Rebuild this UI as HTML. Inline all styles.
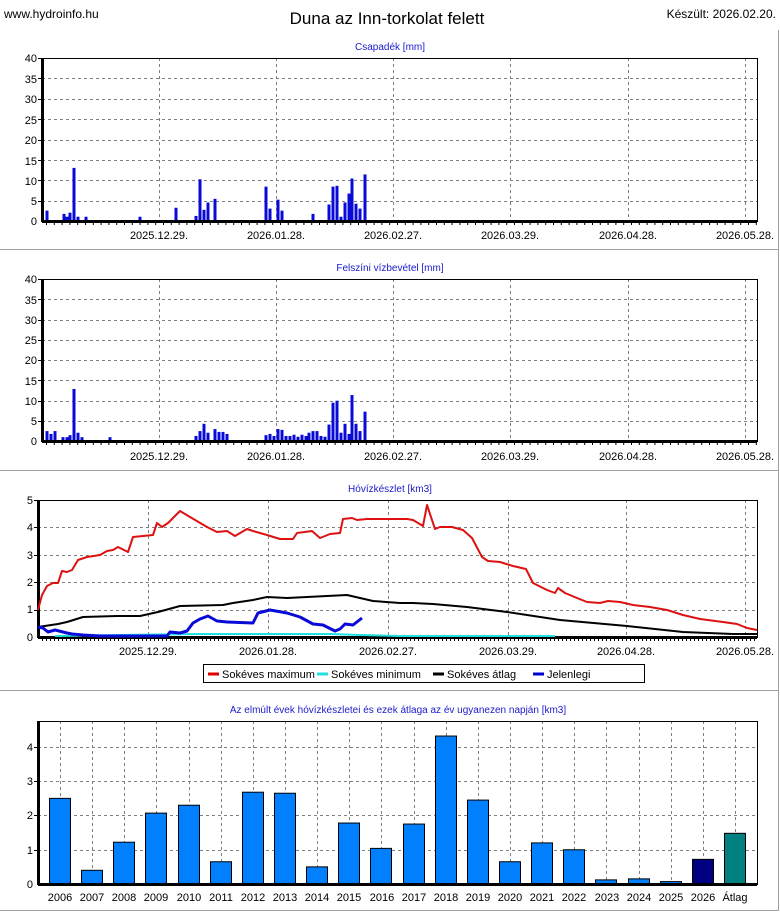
<!DOCTYPE html>
<html><head><meta charset="utf-8">
<style>
html,body{margin:0;padding:0;background:#fff;}
svg{display:block;font-family:"Liberation Sans",Arial,sans-serif;}
</style></head>
<body>
<svg id="s" width="780" height="913" viewBox="0 0 780 913" xmlns="http://www.w3.org/2000/svg">
<rect width="780" height="913" fill="#fff"/>
<!-- panel separators -->
<g stroke="#a0a0a0" stroke-width="1" fill="none">
<line x1="0" y1="249.5" x2="778" y2="249.5"/>
<line x1="0" y1="470.5" x2="778" y2="470.5"/>
<line x1="0" y1="690.5" x2="778" y2="690.5"/>
<line x1="0" y1="910.5" x2="778" y2="910.5"/>
<line x1="778.5" y1="30" x2="778.5" y2="911"/>
</g>
<text x="4" y="18" font-size="12" fill="#000">www.hydroinfo.hu</text>
<text x="387" y="24" font-size="17" text-anchor="middle" fill="#000">Duna az Inn-torkolat felett</text>
<text x="776" y="18" font-size="12" text-anchor="end" fill="#000">Készült: 2026.02.20.</text>

<g font-size="10" fill="#1a1acc" text-anchor="middle">
<text x="390" y="50">Csapadék [mm]</text>
<text x="390" y="271">Felszíni vízbevétel [mm]</text>
<text x="390" y="492">Hóvízkészlet [km3]</text>
<text x="398" y="713">Az elmúlt évek hóvízkészletei és ezek átlaga az év ugyanezen napján [km3]</text>
</g>

<g id="g1"></g><g id="g2"></g><g id="g3"></g><g id="g4"></g>

<!-- y labels plot1 -->
<g font-size="11" fill="#000" text-anchor="end">
<text x="37" y="62">40</text><text x="37" y="83">35</text><text x="37" y="103">30</text><text x="37" y="124">25</text><text x="37" y="144">20</text><text x="37" y="165">15</text><text x="37" y="185">10</text><text x="37" y="205">5</text><text x="37" y="225">0</text>
<text x="37" y="283">40</text><text x="37" y="304">35</text><text x="37" y="324">30</text><text x="37" y="344">25</text><text x="37" y="364">20</text><text x="37" y="385">15</text><text x="37" y="405">10</text><text x="37" y="425">5</text><text x="37" y="445">0</text>
<text x="33" y="504">5</text><text x="33" y="531">4</text><text x="33" y="559">3</text><text x="33" y="586">2</text><text x="33" y="613">1</text><text x="33" y="641">0</text>
<text x="33" y="751">4</text><text x="33" y="785">3</text><text x="33" y="819">2</text><text x="33" y="854">1</text><text x="33" y="888">0</text>
</g>
<g font-size="11" fill="#000" text-anchor="middle">
<text x="159" y="239">2025.12.29.</text><text x="276" y="239">2026.01.28.</text><text x="393" y="239">2026.02.27.</text><text x="510" y="239">2026.03.29.</text><text x="628" y="239">2026.04.28.</text><text x="745" y="239">2026.05.28.</text>
<text x="159" y="460">2025.12.29.</text><text x="276" y="460">2026.01.28.</text><text x="393" y="460">2026.02.27.</text><text x="510" y="460">2026.03.29.</text><text x="628" y="460">2026.04.28.</text><text x="745" y="460">2026.05.28.</text>
<text x="148" y="655">2025.12.29.</text><text x="268" y="655">2026.01.28.</text><text x="388" y="655">2026.02.27.</text><text x="508" y="655">2026.03.29.</text><text x="626" y="655">2026.04.28.</text><text x="745" y="655">2026.05.28.</text>
</g>
<g font-size="11" fill="#000" text-anchor="middle" id="yrs">
<text x="60" y="901">2006</text><text x="92" y="901">2007</text><text x="124" y="901">2008</text><text x="156" y="901">2009</text><text x="189" y="901">2010</text><text x="221" y="901">2011</text><text x="253" y="901">2012</text><text x="285" y="901">2013</text><text x="317" y="901">2014</text><text x="349" y="901">2015</text><text x="382" y="901">2016</text><text x="414" y="901">2017</text><text x="446" y="901">2018</text><text x="478" y="901">2019</text><text x="510" y="901">2020</text><text x="542" y="901">2021</text><text x="574" y="901">2022</text><text x="607" y="901">2023</text><text x="639" y="901">2024</text><text x="671" y="901">2025</text><text x="703" y="901">2026</text><text x="735" y="901">Átlag</text>
</g>

<!-- legend -->
<rect x="203.5" y="664.5" width="441" height="18" fill="#fff" stroke="#000"/>
<g stroke-width="3">
<line x1="208" y1="674" x2="219" y2="674" stroke="#e00000"/>
<line x1="317" y1="674" x2="328" y2="674" stroke="#20e0e0"/>
<line x1="433" y1="674" x2="444" y2="674" stroke="#000"/>
<line x1="533" y1="674" x2="544" y2="674" stroke="#0000d0"/>
</g>
<g font-size="11" fill="#000">
<text x="222" y="678">Sokéves maximum</text>
<text x="331" y="678">Sokéves minimum</text>
<text x="447" y="678">Sokéves átlag</text>
<text x="547" y="678">Jelenlegi</text>
</g>
</svg>
<script>
var NS="http://www.w3.org/2000/svg";
function el(p,t,a){var e=document.createElementNS(NS,t);for(var k in a)e.setAttribute(k,a[k]);p.appendChild(e);return e;}
function frame(g,L,R,T,B,xs,ys,ticksEvery,tx0){
  xs.forEach(function(x){el(g,"line",{x1:x+.5,y1:T,x2:x+.5,y2:B,stroke:"#808080","stroke-dasharray":"3,3"});});
  ys.forEach(function(y){el(g,"line",{x1:L,y1:y+.5,x2:R,y2:y+.5,stroke:"#808080","stroke-dasharray":"3,3"});el(g,"line",{x1:L-4,y1:y+.5,x2:L,y2:y+.5,stroke:"#000"});});
  el(g,"rect",{x:L+.5,y:T+.5,width:R-L,height:B-T,fill:"none",stroke:"#000"});
  el(g,"line",{x1:L+.5,y1:T,x2:L+.5,y2:B+1,stroke:"#000","stroke-width":3});
  el(g,"line",{x1:L,y1:B+.5,x2:R,y2:B+.5,stroke:"#000","stroke-width":3});
  if(ticksEvery){for(var x=tx0;x<R;x+=ticksEvery)el(g,"line",{x1:x+.5,y1:B+1,x2:x+.5,y2:B+4,stroke:"#000"});}
}
var g1=document.getElementById("g1"),g2=document.getElementById("g2"),g3=document.getElementById("g3"),g4=document.getElementById("g4");
var xs1=[159,276,393,510,628,745];
function ys(T,B,n){var a=[];for(var i=0;i<n;i++)a.push(Math.round(T+(B-T)*i/n));return a;}
frame(g1,42,757,58,221,xs1,ys(58,221,8),7.8,46);
frame(g2,42,757,279,441,xs1,ys(279,441,8),7.8,46);
function bars(g,B,s,d){for(var i=0;i<d.length;i+=2){var h=d[i+1]*s;el(g,"rect",{x:d[i]-1.5,y:B-h,width:3,height:h,fill:"#0a0ad8"});}}
bars(g1,220,4.07,[47,2.3,64,1.5,67,0.8,70,1.8,74,12.8,78,0.8,86,0.8,140,0.8,176,3,196,1,200,10,204,2.5,208,4.3,215,5.2,266,8.2,270,2.8,278,5,282,2.3,313,1.5,329,3.8,333,8.2,337,8.4,341,0.8,345,4.3,349,6.5,352,10.2,356,4,360,2.8,365,11.2]);
bars(g2,440,4.05,[47,2.2,51,1.5,55,2.2,63,0.7,67,0.7,70,1.2,74,12.6,78,1.8,82,0.7,110,0.7,196,1,200,2.2,204,4,208,1.8,215,2.7,219,2,223,2,227,1.5,266,1.2,270,1.5,274,1,278,2.7,282,2.5,286,1,290,1,294,1.3,298,0.8,302,1.3,306,1,309,1.8,313,2.2,317,2.2,321,1,325,0.8,329,3.8,333,9.2,337,9.7,341,1.8,345,4,349,1.5,352,11.1,356,4,360,2.2,365,7]);
frame(g3,38,757,500,637,[148,268,388,508,626,745],ys(500,637,5),4,42);
function line(g,pts,c,w){el(g,"polyline",{points:pts,fill:"none",stroke:c,"stroke-width":w,"stroke-linejoin":"round"});}
line(g3,"55,636 120,635 200,634 260,634 330,634 360,635 400,636 555,636","#20e0e0",2);
line(g3,"38,627 58,624 67,622 83,617 117,616 140,616 158,612 180,606 223,605 233,603 253,600 267,597 287,598 327,596 347,595 360,598 373,601 400,603 413,603 433,604 467,607 507,612 560,620 627,626 683,632 733,634 757,634","#000",2);
line(g3,"38,610 42,595 47,586 53,583 58,583 62,571 67,572 72,570 78,560 87,557 100,555 107,551 113,550 118,547 128,552 133,537 153,535 157,523 162,527 168,523 180,511 190,517 207,527 217,532 227,531 235,536 247,529 253,531 267,535 280,539 293,539 297,533 312,531 320,538 330,534 340,533 343,519 352,518 357,520 367,519 407,519 413,520 423,526 427,505 435,529 440,527 452,527 463,530 472,538 482,557 488,561 500,562 513,566 526,569 533,583 547,590 555,593 558,588 565,593 577,598 587,602 600,603 608,601 620,602 633,605 650,607 667,610 683,615 700,619 723,622 737,624 747,628 757,630","#dd1111",2);
line(g3,"38,627 43,628 48,632 55,630 67,633 72,634 83,635 100,636 167,636 170,632 180,633 187,631 193,623 200,619 208,616 217,621 227,622 253,623 258,613 270,610 287,613 300,617 313,624 323,625 335,631 340,629 345,624 353,625 362,618","#0a0ad8",3);
var cx=[],vals=[2.5,0.4,1.22,2.07,2.3,0.65,2.68,2.65,0.5,1.78,1.04,1.75,4.32,2.45,0.65,1.2,1.0,0.12,0.15,0.07,0.72,1.48];
for(var i=0;i<22;i++)cx.push(Math.round(60+i*32.14));
frame(g4,38,757,721,884,cx,[747,781,815,850],0,0);
vals.forEach(function(v,i){var h=v*34.25;var c=i==20?"#000080":(i==21?"#008080":"#0080ff");el(g4,"rect",{x:cx[i]-10.5,y:884-h,width:21,height:h,fill:c,stroke:"#000"});});
el(g4,"line",{x1:38,y1:884.5,x2:757,y2:884.5,stroke:"#000","stroke-width":3});
</script>
</body></html>
